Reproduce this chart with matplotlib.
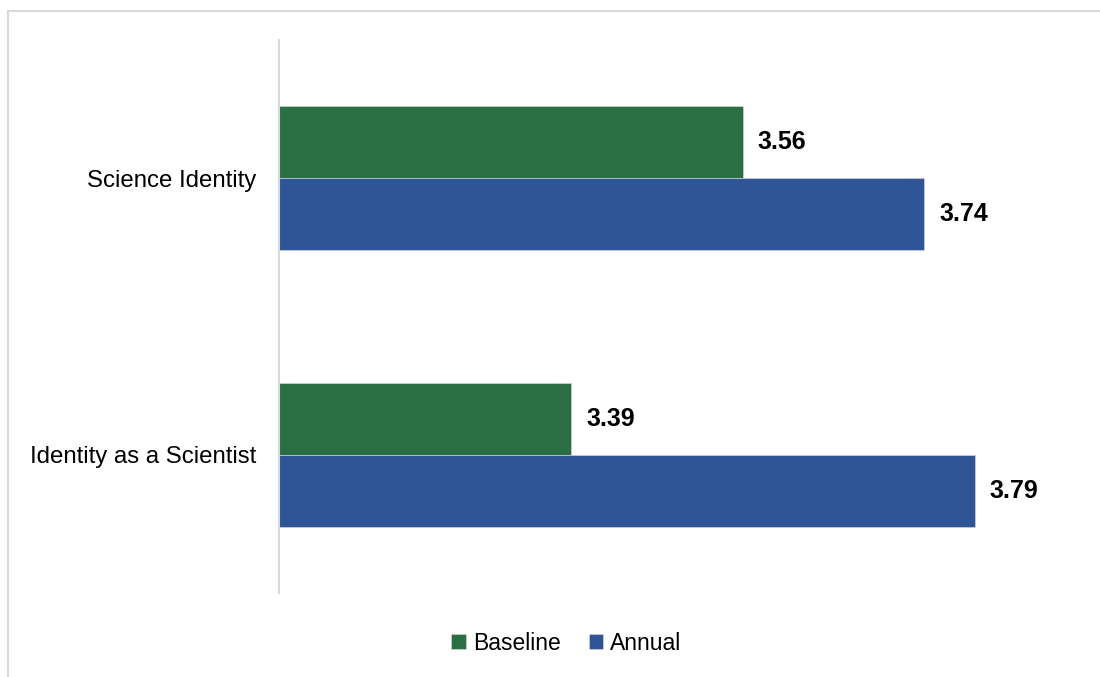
import matplotlib.pyplot as plt
from matplotlib.patches import Rectangle
import numpy as np

plt.rcParams['font.family'] = ['Liberation Sans', 'DejaVu Sans']

categories = ["Science Identity", "Identity as a Scientist"]
baseline = [3.56, 3.39]
annual = [3.74, 3.79]

green = "#2A6E43"
blue = "#2F5597"

fig = plt.figure(figsize=(11, 6.77), dpi=100)
ax = fig.add_axes([0.2532, 0.124, 0.7338, 0.817])

y = np.arange(len(categories))
h = 0.26
ax.barh(y - h / 2, baseline, height=h, left=0, color=green, label="Baseline",
        edgecolor="#dddddd", linewidth=0.4)
ax.barh(y + h / 2, annual, height=h, left=0, color=blue, label="Annual",
        edgecolor="#dddddd", linewidth=0.4)

ax.set_xlim(3.1, 3.9)
ax.set_ylim(1.5, -0.5)

# value labels just past the end of each bar
for i in range(len(categories)):
    ax.annotate(f"{baseline[i]:.2f}", (baseline[i], y[i] - h / 2),
                xytext=(15, 0), textcoords="offset pixels", va="center",
                ha="left", fontsize=18, fontweight="bold")
    ax.annotate(f"{annual[i]:.2f}", (annual[i], y[i] + h / 2),
                xytext=(15, 0), textcoords="offset pixels", va="center",
                ha="left", fontsize=18, fontweight="bold")

ax.set_yticks(y)
ax.set_yticklabels(categories, fontsize=17.3)
ax.tick_params(axis="y", length=0, pad=16)
ax.set_xticks([])
for side in ["top", "right", "bottom"]:
    ax.spines[side].set_visible(False)
ax.spines["left"].set_color("#d9d9d9")
ax.spines["left"].set_linewidth(1.5)

ax.legend(loc="center", bbox_to_anchor=(0.515, 0.05), bbox_transform=fig.transFigure,
          ncol=2, frameon=False, fontsize=16.5, handlelength=0.65, handleheight=0.65,
          handletextpad=0.3, columnspacing=1.2)

# light frame around the chart area
fig.patches.append(Rectangle((8 / 1100, -0.1), 1.2, 1 - 11 / 677 + 0.1,
                             transform=fig.transFigure, fill=False,
                             edgecolor="#d9d9d9", linewidth=1.5))

fig.savefig("out.png", dpi=100)
